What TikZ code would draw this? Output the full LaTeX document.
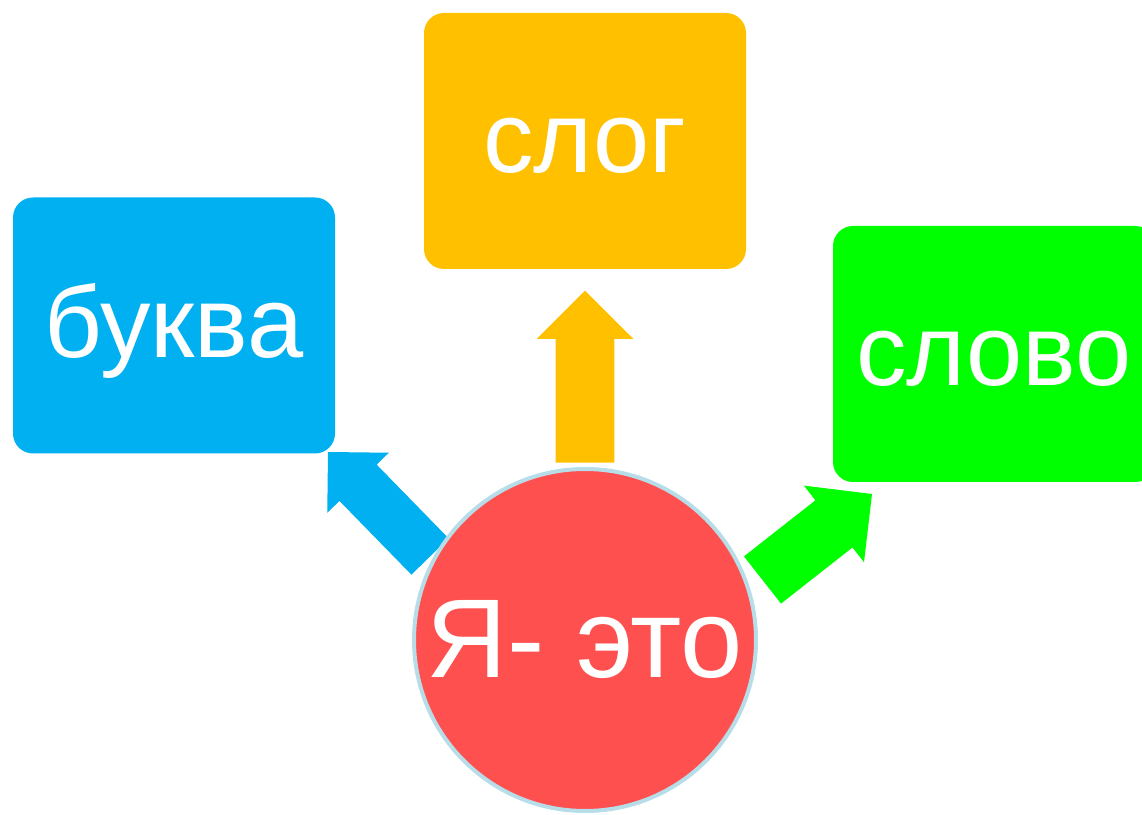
\documentclass[tikz,border=0pt]{standalone}
\usepackage{fontspec}
\setmainfont{Liberation Sans}
\usetikzlibrary{calc}

\definecolor{bukvablue}{HTML}{00B0F0}
\definecolor{slogorange}{HTML}{FFC000}
\definecolor{slovogreen}{HTML}{00FF00}
\definecolor{yared}{HTML}{FF5050}
\definecolor{yarim}{HTML}{B7DDE8}

% fat arrow: colour, tail, tip, half shaft, half head, head length
\newcommand{\blockarrow}[6]{%
  \fill[#1] ($(#2)!#4!90:(#3)$) -- ($(#3)!#6!(#2)!#4!-90:(#2)$)
    -- ($(#3)!#6!(#2)!#5!-90:(#2)$) -- (#3)
    -- ($(#3)!#6!(#2)!#5!90:(#2)$) -- ($(#3)!#6!(#2)!#4!90:(#2)$)
    -- ($(#2)!#4!-90:(#3)$) -- cycle;}

\begin{document}
\begin{tikzpicture}[x=1pt,y=1pt,
  box/.style={rounded corners=20pt, minimum width=322pt, minimum height=256pt,
    inner sep=0pt, text=white, font=\fontsize{101}{110}\selectfont,
    text height=64pt, text depth=0pt}]

  \useasboundingbox (0,0) rectangle (1142,814);

  \node[box, fill=bukvablue] (bukva) at (174,488.5) {буква};
  \node[box, fill=slogorange] (slog) at (585,673) {слог};
  \node[box, fill=slovogreen] (slovo) at (994,460) {слово};

  \coordinate (bukvatail) at (430,257.5);
  \coordinate (bukvatip) at (328,362);
  \coordinate (slogtail) at (585,351.3);
  \coordinate (slogtip) at (585,523.3);
  \coordinate (slovotail) at (762.5,234);
  \coordinate (slovotip) at (872,320);

  \blockarrow{bukvablue}{bukvatail}{bukvatip}{26pt}{43pt}{43pt}
  \blockarrow{slogorange}{slogtail}{slogtip}{29.3pt}{48.5pt}{48.3pt}
  \blockarrow{slovogreen}{slovotail}{slovotip}{30pt}{48.7pt}{48.4pt}

  \node[circle, fill=yared, draw=yarim, line width=4pt, minimum size=342pt,
    inner sep=0pt, text=white, font=\fontsize{112}{120}\selectfont,
    text height=74pt, text depth=0pt] (ya) at (585,174) {Я- это};
\end{tikzpicture}
\end{document}
